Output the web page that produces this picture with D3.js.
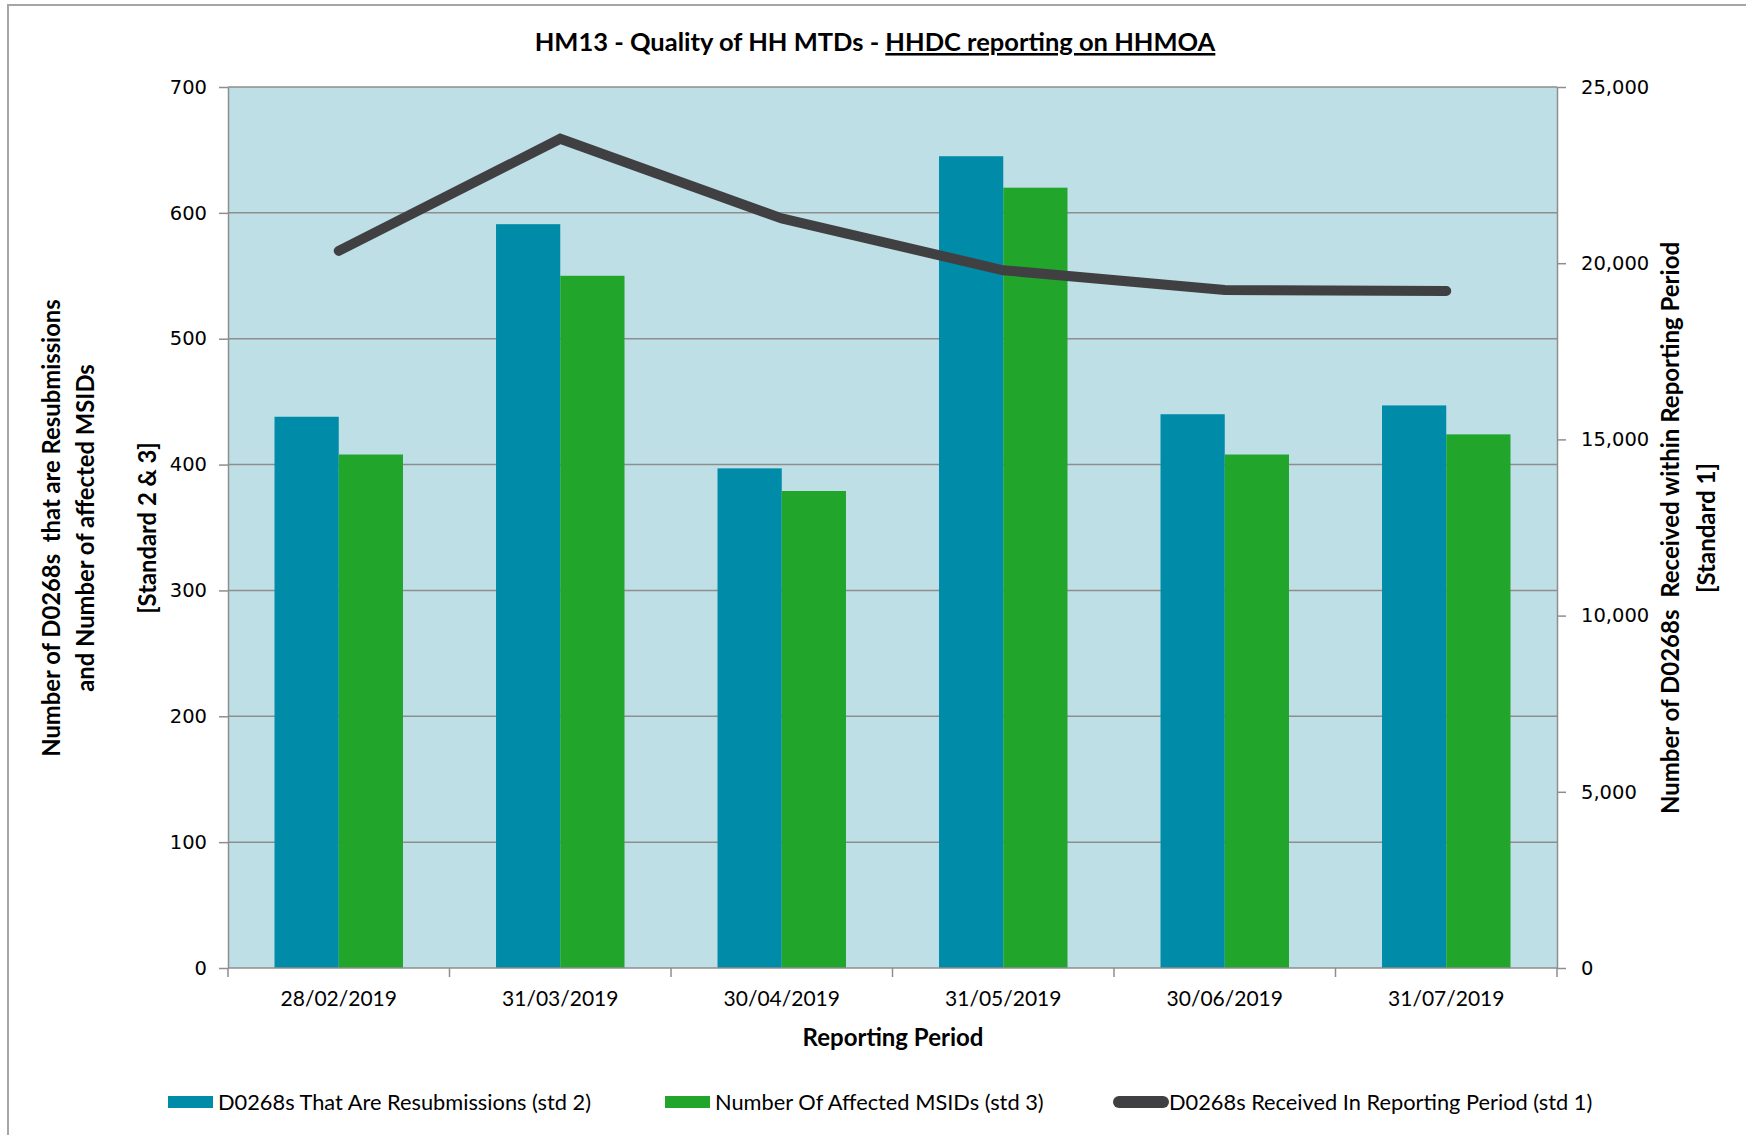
<!DOCTYPE html>
<html>
<head>
<meta charset="utf-8">
<script src="https://cdn.jsdelivr.net/npm/d3@7"></script>
<style>
  body { margin: 0; background: #fff; }
  svg { display: block; }
</style>
</head>
<body>
<div id="chart"></div>
<script>
const categories = ["28/02/2019", "31/03/2019", "30/04/2019", "31/05/2019", "30/06/2019", "31/07/2019"];
const resubmissions = [438, 591, 397, 645, 440, 447];
const affectedMsids = [408, 550, 379, 620, 408, 424];
const received = [20350, 23530, 21270, 19800, 19240, 19210];
const leftTicks = [0, 100, 200, 300, 400, 500, 600, 700];
const rightTicks = [0, 5000, 10000, 15000, 20000, 25000];

const W = 1746, H = 1135;
const plot = {left: 228, right: 1557, top: 87, bottom: 968};
const BLUE = "#008ca8", GREEN = "#22a52b", LINE = "#404043", GRID = "#8e8e8e";
const FONT = "Lato, 'Open Sans', sans-serif";
const NUMFONT = "'DejaVu Sans', Verdana, sans-serif";

const svg = d3.select("#chart").append("svg")
    .attr("width", W)
    .attr("height", H);

// outer chart border
svg.append("rect")
    .attr("x", 8).attr("y", 5)
    .attr("width", W + 20).attr("height", H + 20)
    .attr("fill", "none")
    .attr("stroke", "#a6a6a6")
    .attr("stroke-width", 2);

const x = d3.scaleBand()
    .domain(categories)
    .range([plot.left, plot.right])
    .paddingInner(0.42)
    .paddingOuter(0.21);

const xSub = d3.scaleBand()
    .domain(["std2", "std3"])
    .range([0, x.bandwidth()]);

const yLeft = d3.scaleLinear().domain([0, 700]).range([plot.bottom, plot.top]);
const yRight = d3.scaleLinear().domain([0, 25000]).range([plot.bottom, plot.top]);

// plot background
svg.append("rect")
    .attr("x", plot.left).attr("y", plot.top)
    .attr("width", plot.right - plot.left)
    .attr("height", plot.bottom - plot.top)
    .attr("fill", "#bedfe5");

// gridlines
svg.append("g")
    .selectAll("line")
    .data(leftTicks.filter(d => d > 0))
    .join("line")
        .attr("x1", plot.left).attr("x2", plot.right)
        .attr("y1", d => yLeft(d)).attr("y2", d => yLeft(d))
        .attr("stroke", GRID)
        .attr("stroke-width", 1.5);

// bars
const groups = svg.append("g")
    .selectAll("g")
    .data(categories)
    .join("g")
        .attr("transform", d => `translate(${x(d)},0)`);

groups.append("rect")
    .attr("x", xSub("std2"))
    .attr("width", xSub.bandwidth())
    .attr("y", (d, i) => yLeft(resubmissions[i]))
    .attr("height", (d, i) => plot.bottom - yLeft(resubmissions[i]))
    .attr("fill", BLUE);

groups.append("rect")
    .attr("x", xSub("std3"))
    .attr("width", xSub.bandwidth())
    .attr("y", (d, i) => yLeft(affectedMsids[i]))
    .attr("height", (d, i) => plot.bottom - yLeft(affectedMsids[i]))
    .attr("fill", GREEN);

// line series
const line = d3.line()
    .x((d, i) => x(categories[i]) + x.bandwidth() / 2)
    .y(d => yRight(d));

svg.append("path")
    .datum(received)
    .attr("d", line)
    .attr("fill", "none")
    .attr("stroke", LINE)
    .attr("stroke-width", 10)
    .attr("stroke-linecap", "round")
    .attr("stroke-linejoin", "miter");

// axes
const axisStyle = g => {
    g.select(".domain").attr("stroke", GRID).attr("stroke-width", 1.5);
    g.selectAll(".tick line").attr("stroke", GRID).attr("stroke-width", 1.5);
};

svg.append("g")
    .attr("transform", `translate(${plot.left},0)`)
    .call(d3.axisLeft(yLeft).tickValues(leftTicks).tickSizeInner(9).tickSizeOuter(0).tickPadding(12))
    .call(axisStyle)
    .call(g => g.selectAll("text").attr("font-family", NUMFONT).attr("font-size", 19.5).attr("fill", "#000"));

svg.append("g")
    .attr("transform", `translate(${plot.right},0)`)
    .call(d3.axisRight(yRight).tickValues(rightTicks).tickFormat(d3.format(",")).tickSizeInner(9).tickSizeOuter(0).tickPadding(15))
    .call(axisStyle)
    .call(g => g.selectAll("text").attr("font-family", NUMFONT).attr("font-size", 19.5).attr("fill", "#000"));

// bottom axis: category labels + boundary ticks
const xAxis = svg.append("g")
    .attr("transform", `translate(0,${plot.bottom})`);

xAxis.append("line")
    .attr("x1", plot.left).attr("x2", plot.right)
    .attr("stroke", GRID).attr("stroke-width", 1.5);

const step = x.step();
xAxis.selectAll("line.bound")
    .data(d3.range(categories.length + 1))
    .join("line")
        .attr("class", "bound")
        .attr("x1", i => plot.left + i * step).attr("x2", i => plot.left + i * step)
        .attr("y1", 0).attr("y2", 9)
        .attr("stroke", GRID).attr("stroke-width", 1.5);

xAxis.selectAll("text")
    .data(categories)
    .join("text")
        .attr("x", d => x(d) + x.bandwidth() / 2)
        .attr("y", 38)
        .attr("text-anchor", "middle")
        .attr("font-family", FONT)
        .attr("font-size", 21)
        .text(d => d);

// title
const title = svg.append("text")
    .attr("x", 875).attr("y", 51)
    .attr("text-anchor", "middle")
    .attr("font-family", FONT)
    .attr("font-size", 25.5)
    .attr("font-weight", "bold");
title.append("tspan").text("HM13 - Quality of HH MTDs - ");
title.append("tspan").attr("text-decoration", "underline").text("HHDC reporting on HHMOA");

// axis titles
svg.append("text")
    .attr("x", 893).attr("y", 1046)
    .attr("text-anchor", "middle")
    .attr("font-family", FONT)
    .attr("font-size", 24)
    .attr("font-weight", "bold")
    .text("Reporting Period");

const leftTitle = ["Number of D0268s  that are Resubmissions", "and Number of affected MSIDs", "[Standard 2 & 3]"];
const leftDy = [0, 34, 62];
svg.append("text")
    .attr("transform", `translate(60,528) rotate(-90)`)
    .attr("text-anchor", "middle")
    .attr("font-family", FONT)
    .attr("font-size", 23.8)
    .attr("font-weight", "bold")
    .attr("xml:space", "preserve")
    .selectAll("tspan")
    .data(leftTitle)
    .join("tspan")
        .attr("x", 0)
        .attr("dy", (d, i) => leftDy[i])
        .text(d => d);

const rightTitle = ["Number of D0268s  Received within Reporting Period", "[Standard 1]"];
svg.append("text")
    .attr("transform", `translate(1679,528) rotate(-90)`)
    .attr("text-anchor", "middle")
    .attr("font-family", FONT)
    .attr("font-size", 24)
    .attr("font-weight", "bold")
    .attr("xml:space", "preserve")
    .selectAll("tspan")
    .data(rightTitle)
    .join("tspan")
        .attr("x", 0)
        .attr("dy", (d, i) => i === 0 ? 0 : 36)
        .text(d => d);

// legend
const legendItems = [
    {label: "D0268s That Are Resubmissions (std 2)", color: BLUE, type: "rect", x: 168},
    {label: "Number Of Affected MSIDs (std 3)", color: GREEN, type: "rect", x: 665},
    {label: "D0268s Received In Reporting Period (std 1)", color: LINE, type: "line", x: 1113}
];
const legend = svg.append("g").attr("transform", "translate(0,1102)");
const li = legend.selectAll("g").data(legendItems).join("g")
    .attr("transform", d => `translate(${d.x},0)`);
li.filter(d => d.type === "rect").append("rect")
    .attr("x", 0).attr("y", -6).attr("width", 45).attr("height", 12)
    .attr("fill", d => d.color);
li.filter(d => d.type === "line").append("line")
    .attr("x1", 6).attr("x2", 50).attr("y1", 0).attr("y2", 0)
    .attr("stroke", d => d.color).attr("stroke-width", 12).attr("stroke-linecap", "round");
li.append("text")
    .attr("x", d => d.type === "line" ? 56 : 50)
    .attr("y", 8)
    .attr("font-family", FONT)
    .attr("font-size", 21.8)
    .text(d => d.label);
</script>
</body>
</html>
